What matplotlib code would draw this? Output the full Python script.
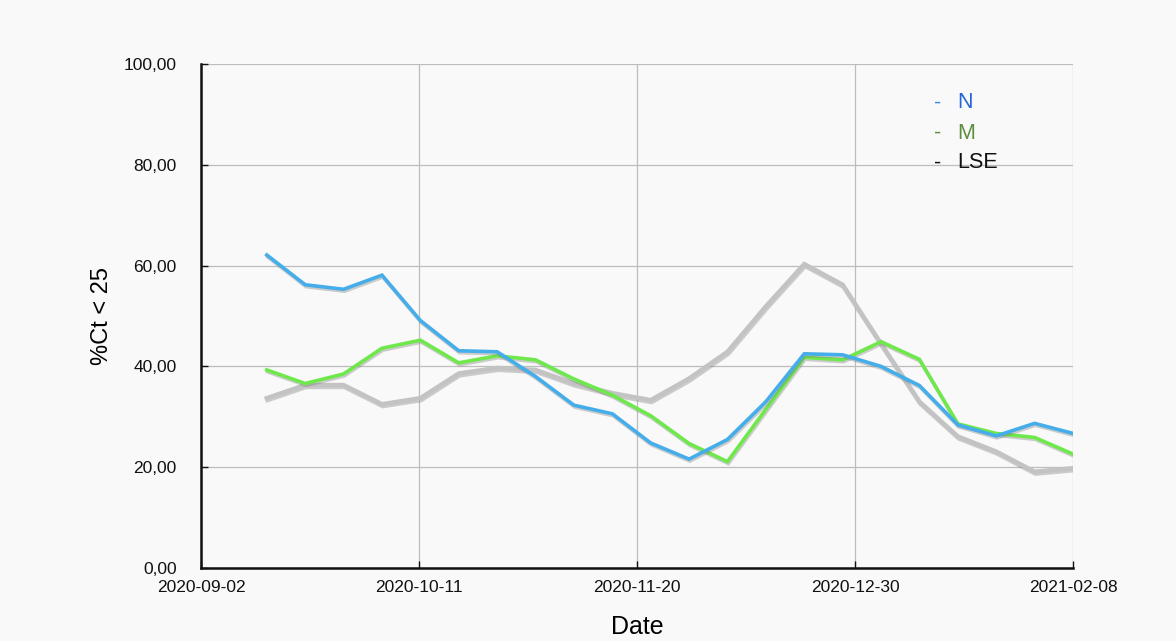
import datetime as dt
import numpy as np
import matplotlib
matplotlib.use('Agg')
import matplotlib.pyplot as plt
import matplotlib.dates as mdates
import matplotlib.patheffects as pe

plt.rcParams['font.family'] = ['Liberation Sans', 'DejaVu Sans']

dates = ['2020-09-14', '2020-09-21', '2020-09-28', '2020-10-05', '2020-10-12',
         '2020-10-19', '2020-10-26', '2020-11-02', '2020-11-09', '2020-11-16',
         '2020-11-23', '2020-11-30', '2020-12-07', '2020-12-14', '2020-12-21',
         '2020-12-28', '2021-01-04', '2021-01-11', '2021-01-18', '2021-01-25',
         '2021-02-01', '2021-02-08']
n_vals = [62.1, 56.2, 55.3, 58.1, 49.1, 43.1, 42.9, 38.0, 32.3, 30.6, 24.8,
          21.6, 25.5, 33.0, 42.5, 42.3, 40.0, 36.2, 28.4, 26.2, 28.7, 26.7]
m_vals = [39.3, 36.6, 38.5, 43.6, 45.2, 40.7, 42.1, 41.3, 37.5, 34.3, 30.2,
          24.7, 21.1, 31.5, 41.8, 41.3, 44.9, 41.4, 28.6, 26.7, 25.9, 22.6]
lse_vals = [33.7, 36.3, 36.3, 32.5, 33.7, 38.6, 39.7, 39.3, 36.6, 34.7, 33.3,
            37.6, 42.9, 51.9, 60.3, 56.2, 44.5, 33.0, 26.1, 23.1, 19.1, 19.8]
series = ['N', 'M', 'LSE']
line_colors = ['#45ade9', '#6fe84c', '#c3c3c3']
dash_colors = ['#3a8be0', '#5b8f3e', '#111111']
text_colors = ['#2466d8', '#5b8f3e', '#111111']

x = [dt.datetime.strptime(d, '%Y-%m-%d') for d in dates]
bg = '#f9f9f9'

fig = plt.figure(figsize=(11.76, 6.41), dpi=100)
fig.patch.set_facecolor(bg)
ax = fig.add_axes([201 / 1176, 73 / 641, 872 / 1176, 504 / 641])
ax.set_facecolor(bg)

shadow = [pe.SimpleLineShadow(offset=(0.6, -1.4), shadow_color='#777777', alpha=0.35),
          pe.Normal()]
for vals, c, w in zip([lse_vals, m_vals, n_vals], line_colors[::-1], [3.2, 2.6, 2.6]):
    ax.plot(x, vals, color=c, lw=w, solid_joinstyle='miter', path_effects=shadow, zorder=3)

lo = mdates.date2num(dt.datetime(2020, 9, 2))
hi = mdates.date2num(dt.datetime(2021, 2, 8))
ax.set_xlim(lo, hi)
ax.set_ylim(0, 100)
ax.set_xticks(np.linspace(lo, hi, 5))
ax.xaxis.set_major_formatter(mdates.DateFormatter('%Y-%m-%d'))
ax.set_yticks(np.arange(0, 101, 20))
ax.yaxis.set_major_formatter(matplotlib.ticker.FuncFormatter(lambda v, p: f'{v:.2f}'.replace('.', ',')))

ax.grid(True, color='#bdbdbd', lw=0.9, zorder=1)
ax.set_axisbelow(True)
for s in ['top', 'right']:
    ax.spines[s].set_visible(False)
for s in ['left', 'bottom']:
    ax.spines[s].set_linewidth(1.8)
    ax.spines[s].set_color('#111111')
ax.tick_params(direction='in', length=5, width=1, colors='#111111', labelsize=12.5)
ax.tick_params(axis='y', pad=17.5)
ax.tick_params(axis='x', pad=9)

ax.set_xlabel('Date', fontsize=18, labelpad=14)
ax.set_ylabel('%Ct < 25', fontsize=17, labelpad=8)

for i, name in enumerate(series):
    yy = 103 + 30 * i
    fig.text(934 / 1176, 1 - yy / 641, '-', color=dash_colors[i], fontsize=15.5, va='center', ha='left')
    fig.text(957 / 1176, 1 - yy / 641, name, color=text_colors[i], fontsize=15.5, va='center', ha='left')

fig.savefig('out.png', dpi=100, facecolor=bg)
